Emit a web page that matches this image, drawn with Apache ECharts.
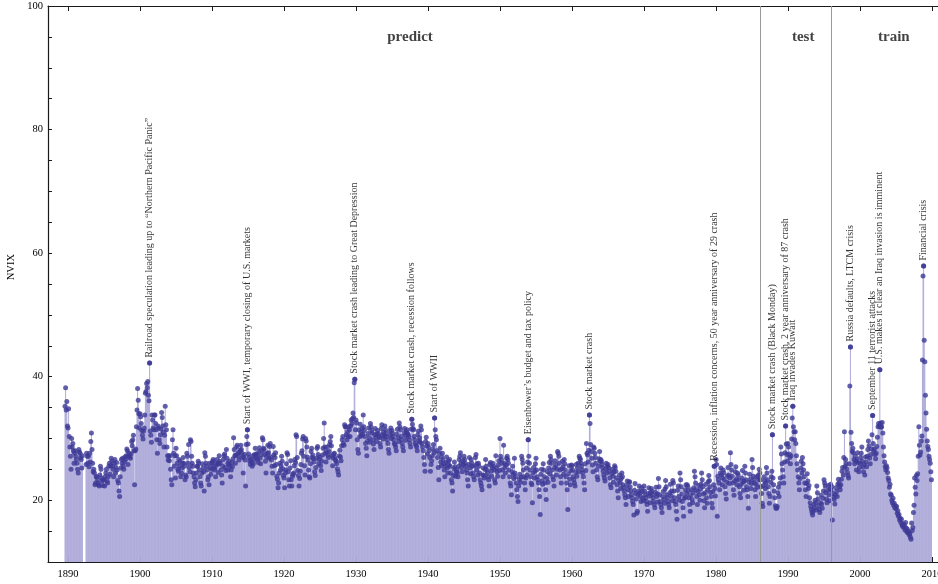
<!DOCTYPE html>
<html>
<head>
<meta charset="utf-8">
<title>NVIX</title>
<script src="https://cdn.jsdelivr.net/npm/echarts@6/dist/echarts.min.js"></script>
<style>
  html, body { margin: 0; padding: 0; background: #fff; }
  #chart { width: 938px; height: 584px; }
</style>
</head>
<body>
<div id="chart"></div>
<script>
// Monthly NVIX readings grouped by decade, one row per year.
// The series opens in August 1889; null marks months without a reading.
const nvix1880s = [
  35.2, 38.2, 34.6, 36.0, 32.0
];
const nvix1890s = [
  31.7, 34.8, 30.3, 28.6, 27.1, 25.0, 30.0, 28.6, 29.2, 28.0, 26.0, 27.6,
  28.0, 27.1, 26.6, 26.0, 25.0, 24.4, 28.2, 27.8, 27.6, 26.9, 26.6, 25.2,
  27.2, null, null, null, null, null, 25.8, 27.6, 27.1, 26.0, 27.1, 25.4,
  27.6, 26.2, 29.5, 30.9, 28.2, 26.0, 24.6, 25.0, 24.4, 22.5, 22.8, 23.8,
  23.8, 23.3, 22.8, 22.5, 22.3, 24.1, 25.5, 25.0, 23.6, 23.1, 22.4, 23.3,
  23.3, 22.3, 23.8, 24.4, 25.0, 23.1, 22.8, 23.8, 25.5, 26.0, 24.2, 25.6,
  26.8, 26.3, 25.5, 25.0, 23.8, 26.0, 26.6, 24.4, 25.3, 26.1, 24.9, 23.2,
  22.8, 21.5, 20.6, 23.8, 25.2, 26.6, 26.0, 26.8, 25.5, 25.0, 26.2, 27.0,
  26.6, 27.2, 28.3, 28.0, 25.8, 27.2, 27.6, 27.0, 26.8, 27.5, 29.5, 28.8,
  29.8, 30.5, 28.0, 22.5, 28.0, 28.3, 31.9, 34.6, 38.1, 36.2, 34.0, 31.7
];
const nvix1900s = [
  34.0, 33.5, 32.4, 31.3, 30.5, 29.9, 31.2, 31.7, 33.8, 37.3, 37.6, 38.9,
  38.2, 39.2, 37.0, 36.1, 42.2, 31.2, 30.5, 29.4, 33.8, 33.0, 31.7, 31.4,
  33.8, 33.8, 32.4, 31.4, 29.8, 27.6, 32.0, 31.7, 29.8, 29.2, 30.6, 31.5,
  34.2, 33.4, 32.0, 31.0, 28.6, 30.5, 35.2, 32.2, 31.4, 28.6, 27.2, 26.5,
  27.2, 26.4, 27.2, 25.0, 23.3, 22.5, 29.8, 31.4, 27.6, 25.5, 27.2, 23.6,
  28.4, 27.2, 26.0, 25.0, 24.7, 26.6, 25.5, 26.3, 23.8, 24.4, 25.2, 26.0,
  26.9, 26.0, 25.5, 23.3, 24.1, 23.8, 27.6, 27.1, 26.0, 29.0, 25.3, 24.6,
  29.8, 29.5, 27.1, 26.0, 25.5, 24.4, 23.8, 22.8, 22.2, 23.3, 24.4, 25.5,
  25.5, 26.3, 26.0, 24.9, 23.8, 22.8, 22.3, 24.4, 25.9, 25.2, 24.6, 21.5,
  27.7, 27.1, 26.0, 25.5, 24.9, 23.3, 23.8, 22.5, 26.0, 25.3, 24.2, 25.0
];
const nvix1910s = [
  26.0, 26.3, 26.6, 25.5, 24.9, 25.2, 23.8, 26.0, 26.6, 25.8, 24.5, 25.9,
  27.2, 26.3, 26.0, 24.9, 24.1, 22.8, 25.5, 26.6, 27.2, 27.5, 25.3, 24.8,
  28.2, 26.8, 26.0, 24.9, 25.8, 26.3, 25.5, 23.8, 24.9, 26.1, 25.4, 26.7,
  30.1, 28.2, 27.2, 26.0, 27.3, 28.6, 28.9, 27.6, 27.1, 26.5, 27.8, 28.1,
  28.9, 28.2, 27.6, 26.9, 24.4, 27.0, 27.4, 26.5, 22.3, 29.0, 30.3, 31.4,
  29.1, 27.5, 26.9, 26.3, 25.8, 26.6, 26.1, 25.5, 27.2, 25.9, 26.6, 27.4,
  28.4, 27.3, 26.9, 27.5, 26.6, 26.1, 27.9, 28.5, 26.8, 25.9, 27.3, 28.0,
  30.1, 29.8, 28.4, 28.2, 27.4, 26.3, 24.4, 27.0, 27.6, 28.9, 27.7, 26.8,
  28.7, 29.2, 27.0, 26.5, 25.5, 24.4, 28.7, 27.3, 25.6, 26.9, 27.7, 25.8,
  23.9, 23.4, 22.0, 22.8, 24.4, 26.0, 24.9, 25.6, 27.1, 26.3, 25.1, 24.0
];
const nvix1920s = [
  23.6, 22.0, 24.4, 24.9, 25.9, 27.7, 27.4, 24.6, 23.3, 22.3, 25.2, 26.4,
  23.3, 22.3, 23.9, 24.2, 24.4, 25.6, 26.6, 26.1, 30.6, 30.3, 26.9, 24.8,
  24.0, 22.3, 23.5, 24.7, 25.8, 27.6, 28.0, 29.9, 30.3, 27.1, 25.6, 24.1,
  30.0, 29.6, 28.6, 27.0, 26.5, 24.9, 23.8, 23.6, 25.9, 27.9, 28.4, 26.9,
  27.3, 26.7, 26.2, 24.6, 24.0, 25.3, 26.8, 28.4, 28.7, 27.4, 25.9, 26.6,
  27.0, 25.6, 24.8, 26.3, 27.3, 28.4, 30.0, 32.5, 28.6, 27.6, 26.2, 27.9,
  28.6, 27.3, 26.9, 27.9, 29.0, 29.5, 30.3, 28.8, 27.2, 25.6, 26.8, 27.5,
  27.6, 26.9, 26.5, 26.3, 25.9, 25.1, 24.6, 24.1, 27.2, 28.1, 27.0, 26.4,
  28.8, 29.8, 30.3, 29.2, 28.9, 32.2, 31.9, 31.9, 30.6, 29.8, 31.1, 30.3,
  31.9, 31.4, 30.3, 32.0, 33.0, 32.4, 33.2, 34.1, 33.4, 39.0, 39.6, 31.4
];
const nvix1930s = [
  33.0, 32.5, 29.8, 28.2, 27.6, 31.4, 30.3, 32.3, 31.0, 30.4, 31.6, 30.7,
  33.8, 31.9, 31.3, 30.3, 29.2, 28.4, 27.2, 29.6, 30.8, 31.7, 30.1, 29.4,
  32.4, 31.9, 31.3, 30.9, 29.8, 29.1, 28.2, 30.6, 31.6, 30.2, 29.5, 30.7,
  31.3, 30.8, 30.3, 30.1, 29.2, 28.6, 31.6, 32.2, 30.6, 29.9, 31.0, 30.4,
  32.0, 31.4, 30.8, 30.3, 29.8, 29.2, 28.2, 27.6, 31.2, 30.5, 31.7, 30.0,
  31.3, 30.8, 30.3, 29.8, 29.2, 29.0, 28.6, 28.0, 30.7, 31.5, 30.1, 29.5,
  32.5, 31.9, 31.4, 30.3, 29.8, 29.2, 28.6, 28.0, 30.9, 31.6, 30.4, 29.7,
  31.0, 31.4, 30.8, 30.6, 30.3, 29.8, 29.2, 28.6, 31.5, 33.1, 32.3, 31.6,
  31.4, 30.3, 29.8, 29.2, 28.9, 28.6, 28.0, 30.6, 31.2, 29.6, 30.1, 29.4,
  32.0, 31.4, 29.2, 28.6, 28.0, 26.9, 25.8, 24.7, 29.5, 30.2, 28.8, 27.5
];
const nvix1940s = [
  29.2, 28.6, 28.0, 26.9, 24.7, 25.8, 26.4, 27.2, 28.3, 29.0, 27.7, 33.3,
  31.4, 30.3, 29.8, 28.0, 26.9, 25.3, 23.3, 27.6, 28.4, 26.2, 25.6, 27.0,
  27.6, 26.5, 25.9, 24.9, 23.8, 25.5, 26.1, 27.0, 25.2, 24.4, 26.3, 25.7,
  26.6, 25.5, 24.4, 23.3, 22.8, 21.5, 24.0, 25.1, 26.2, 25.4, 23.9, 24.6,
  24.9, 24.4, 23.8, 25.5, 26.6, 27.1, 27.7, 26.0, 25.3, 24.6, 26.4, 25.8,
  27.1, 26.6, 26.0, 25.5, 24.9, 24.4, 23.3, 22.3, 25.8, 26.9, 25.2, 24.3,
  26.6, 26.0, 25.5, 24.4, 23.8, 23.3, 25.6, 26.9, 27.4, 24.9, 25.9, 24.1,
  26.0, 25.5, 24.4, 23.3, 22.8, 22.3, 21.7, 24.1, 25.2, 24.0, 23.6, 25.0,
  26.6, 25.5, 24.9, 24.4, 23.8, 23.3, 22.3, 25.8, 26.1, 24.7, 23.9, 25.3,
  26.0, 25.5, 24.9, 23.3, 22.8, 27.2, 25.2, 24.6, 23.9, 25.7, 26.4, 24.8
];
const nvix1950s = [
  30.0, 27.1, 26.6, 26.0, 24.9, 23.8, 28.9, 26.0, 25.3, 24.4, 25.7, 26.8,
  27.1, 26.6, 26.0, 24.9, 23.8, 22.8, 22.3, 20.9, 24.6, 25.5, 24.2, 23.5,
  26.8, 24.4, 23.8, 22.8, 21.7, 20.6, 19.8, 22.3, 23.4, 24.2, 22.9, 23.7,
  27.1, 26.6, 26.0, 24.9, 23.8, 22.8, 21.7, 23.6, 25.2, 24.1, 26.2, 29.8,
  27.1, 26.0, 24.9, 23.8, 22.8, 22.5, 19.6, 24.4, 25.3, 23.6, 24.7, 25.9,
  26.8, 24.9, 23.8, 23.3, 22.8, 21.7, 20.6, 17.7, 24.2, 25.0, 23.1, 22.6,
  25.9, 24.9, 23.8, 22.8, 21.7, 20.1, 23.5, 24.6, 22.9, 25.2, 26.1, 24.3,
  27.1, 26.6, 26.0, 24.9, 23.8, 23.3, 22.3, 25.3, 26.4, 25.7, 24.1, 25.0,
  27.9, 27.6, 27.1, 26.0, 24.9, 23.8, 22.8, 25.1, 26.3, 25.4, 24.2, 26.6,
  25.9, 24.9, 23.8, 22.8, 21.7, 18.5, 24.3, 25.6, 23.4, 22.5, 24.8, 25.7
];
const nvix1960s = [
  25.6, 24.9, 23.8, 23.3, 22.8, 22.3, 24.5, 25.8, 23.9, 25.2, 26.0, 24.6,
  27.1, 26.8, 26.6, 26.0, 25.5, 24.9, 24.4, 23.8, 22.8, 21.7, 25.9, 24.8,
  29.2, 27.6, 27.3, 26.2, 28.1, 33.8, 32.4, 29.0, 27.9, 26.8, 25.7, 24.6,
  28.6, 28.4, 27.6, 26.9, 26.0, 24.9, 23.8, 23.3, 25.5, 26.7, 27.9, 26.3,
  26.6, 26.3, 25.8, 25.3, 24.7, 24.1, 23.6, 23.1, 25.1, 26.0, 24.4, 25.5,
  25.8, 25.3, 24.7, 23.6, 22.5, 22.0, 24.3, 25.0, 23.9, 22.9, 24.6, 25.6,
  25.3, 24.7, 23.6, 22.5, 21.5, 20.4, 23.2, 24.1, 22.8, 21.9, 23.5, 24.4,
  23.8, 22.5, 22.0, 21.5, 20.9, 20.4, 19.3, 22.4, 23.1, 21.7, 20.6, 22.9,
  23.0, 22.2, 21.5, 20.9, 20.4, 19.8, 19.3, 17.6, 21.6, 22.7, 21.1, 20.2,
  17.9, 18.2, 20.9, 21.5, 22.3, 21.2, 20.6, 19.8, 22.0, 21.4, 20.3, 19.9
];
const nvix1970s = [
  22.3, 21.5, 20.9, 20.4, 19.8, 19.3, 18.2, 21.1, 22.0, 20.7, 19.6, 21.2,
  21.9, 21.5, 20.9, 20.4, 19.8, 19.3, 18.8, 21.3, 22.1, 20.6, 21.0, 19.7,
  23.5, 22.2, 20.9, 19.8, 19.3, 18.8, 18.0, 20.6, 21.4, 20.1, 19.5, 21.8,
  23.2, 22.2, 20.9, 20.4, 19.8, 19.3, 18.8, 21.2, 22.6, 20.7, 21.5, 19.9,
  23.2, 22.8, 21.5, 20.4, 19.8, 19.3, 18.2, 16.9, 21.6, 22.3, 20.6, 20.0,
  24.4, 23.3, 22.2, 21.0, 19.8, 18.8, 17.4, 20.3, 21.7, 20.5, 22.5, 21.1,
  22.5, 22.2, 21.5, 20.4, 19.3, 18.2, 20.8, 21.7, 20.1, 19.6, 21.2, 22.0,
  24.7, 23.8, 22.8, 21.7, 20.6, 19.3, 21.4, 22.4, 20.9, 20.0, 21.8, 22.6,
  24.4, 23.3, 22.2, 21.0, 19.9, 18.8, 21.2, 22.6, 20.4, 19.5, 21.7, 23.0,
  24.0, 23.2, 22.2, 21.3, 20.6, 19.5, 18.8, 21.4, 22.5, 25.5, 21.9, 20.7
];
const nvix1980s = [
  26.6, 25.8, 17.4, 23.9, 23.3, 22.8, 21.7, 24.4, 25.2, 24.1, 22.5, 23.6,
  24.9, 24.4, 23.3, 22.2, 21.1, 20.2, 22.9, 23.9, 25.3, 24.1, 22.7, 23.6,
  27.7, 25.8, 24.9, 23.9, 22.8, 21.7, 20.8, 23.1, 24.6, 25.4, 23.4, 22.5,
  24.4, 24.1, 23.3, 22.2, 21.1, 20.4, 22.6, 23.6, 24.8, 22.9, 21.6, 23.1,
  25.5, 24.4, 23.3, 22.2, 21.7, 20.6, 18.7, 22.9, 24.2, 23.4, 21.9, 22.7,
  26.6, 25.3, 23.9, 23.3, 22.8, 21.7, 20.6, 22.6, 23.8, 22.1, 24.0, 23.3,
  25.0, 24.4, 23.3, 22.2, 21.1, 19.5, 19.0, 22.4, 23.8, 23.1, 21.9, 22.8,
  25.3, 24.4, 23.3, 22.2, 21.1, 19.5, 20.6, 22.9, 23.8, 24.7, 30.6, 23.6,
  22.5, 21.5, 20.4, 19.1, 18.7, 18.7, 19.0, 21.2, 22.1, 20.6, 22.7, 23.6,
  28.6, 27.5, 25.9, 24.9, 23.8, 22.8, 26.2, 27.7, 32.0, 29.1, 27.4, 26.3
];
const nvix1990s = [
  29.2, 28.6, 27.5, 26.9, 25.9, 27.2, 29.9, 33.3, 35.2, 31.9, 31.1, 29.8,
  31.1, 29.2, 27.2, 25.9, 24.9, 23.8, 22.8, 21.7, 23.5, 25.2, 26.3, 24.4,
  26.9, 25.9, 24.9, 23.8, 22.8, 21.7, 20.6, 22.7, 24.3, 23.1, 21.9, 22.4,
  20.4, 19.6, 19.0, 18.5, 18.0, 17.6, 18.2, 19.3, 18.8, 20.0, 19.6, 18.4,
  22.3, 21.2, 20.2, 19.1, 18.5, 18.0, 19.6, 20.8, 19.4, 18.7, 20.3, 21.5,
  23.3, 22.8, 22.3, 21.2, 20.2, 19.6, 21.6, 22.4, 20.9, 19.9, 21.8, 22.6,
  21.6, 22.2, 16.8, 21.1, 20.5, 20.1, 19.4, 20.9, 22.0, 21.4, 20.6, 22.6,
  23.4, 22.8, 22.2, 21.7, 22.5, 23.4, 24.7, 25.3, 24.1, 26.9, 31.1, 25.4,
  26.6, 25.9, 25.1, 24.5, 24.0, 23.6, 25.9, 38.5, 44.8, 31.0, 29.2, 27.9,
  28.4, 27.7, 26.6, 25.9, 27.1, 26.3, 24.9, 26.6, 27.7, 26.1, 24.6, 25.3
];
const nvix2000s = [
  26.0, 26.9, 27.6, 28.6, 26.3, 25.4, 24.6, 25.8, 24.1, 27.0, 26.2, 25.4,
  27.1, 28.2, 29.6, 28.8, 26.8, 25.9, 27.4, 28.3, 30.6, 33.7, 29.2, 28.0,
  28.3, 27.4, 26.7, 27.6, 28.7, 30.2, 31.9, 32.4, 32.0, 41.1, 32.5, 31.8,
  31.9, 32.6, 30.9, 28.6, 27.2, 26.2, 25.4, 24.9, 25.6, 25.2, 24.5, 23.6,
  23.2, 22.1, 22.6, 21.0, 20.8, 20.0, 19.6, 20.3, 19.2, 19.5, 18.8, 19.1,
  18.6, 19.0, 17.9, 18.3, 17.4, 17.7, 16.8, 17.1, 16.4, 16.9, 16.0, 15.8,
  16.2, 15.6, 15.9, 15.2, 16.4, 15.5, 14.9, 15.3, 14.7, 14.9, 14.4, 14.6,
  14.0, 13.7, 16.3, 15.1, 15.6, 18.0, 19.2, 23.6, 22.1, 21.0, 24.0, 23.2,
  24.3, 27.1, 31.9, 28.9, 27.3, 27.8, 29.6, 30.4, 42.7, 56.3, 57.9, 45.9,
  42.4, 37.0, 34.1, 31.5, 29.6, 28.7, 28.2, 27.1, 26.6, 26.0, 24.6, 23.3
];

// First month of the series: year and zero-based month.
const seriesStart = [1889, 7];

// Tick years on the horizontal axis.
const yearTicks = [1890, 1900, 1910, 1920, 1930, 1940, 1950, 1960, 1970, 1980, 1990, 2000, 2010];

// Annotated episodes: month (YYYY-MM) and the text written above its reading.
const eventMonths = ['1901-05', '1914-12', '1929-11', '1937-10', '1940-12', '1953-12', '1962-06',
  '1979-10', '1987-11', '1989-09', '1990-09', '1998-09', '2001-10', '2002-10', '2008-11'];
const eventTexts = [
  'Railroad speculation leading up to \u201cNorthern Pacific Panic\u201d',
  'Start of WWI, temporary closing of U.S. markets',
  'Stock market crash leading to Great Depression',
  'Stock market crash, recession follows',
  'Start of WWII',
  'Eisenhower\u2019s budget and tax policy',
  'Stock market crash',
  'Recession, inflation concerns, 50 year anniversary of 29 crash',
  'Stock market crash (Black Monday)',
  'Stock market crash, 2 year anniversary of 87 crash',
  'Iraq invades Kuwait',
  'Russia defaults, LTCM crisis',
  'September 11 terrorist attacks',
  'U.S. makes it clear an Iraq invasion is imminent',
  'Financial crisis'
];

// Sample boundaries and the names of the three periods.
const sampleSplits = [1986.1, 1996.05];
const sampleNames = ['predict', 'test', 'train'];
const sampleNameYears = [1937.5, 1992.1, 2004.7];

// ---------------------------------------------------------------------------

const monthly = [].concat(nvix1880s, nvix1890s, nvix1900s, nvix1910s, nvix1920s,
  nvix1930s, nvix1940s, nvix1950s, nvix1960s, nvix1970s, nvix1980s, nvix1990s, nvix2000s);

const monthToYear = i => seriesStart[0] + (seriesStart[1] + i) / 12;
const points = monthly.map((v, i) => [monthToYear(i), v]);
const validPoints = points.filter(p => p[1] !== null);

const eventPoints = eventMonths.map((m, k) => {
  const [y, mo] = m.split('-').map(Number);
  const idx = (y - seriesStart[0]) * 12 + (mo - 1) - seriesStart[1];
  return [monthToYear(idx), monthly[idx], eventTexts[k]];
});

const serif = '"Liberation Serif", "DejaVu Serif", serif';
const ink = '#1a1a1a';
const dotColor = '#3d3996';
const xMin = 1887.22, xMax = 2010.83;

const xAxisCommon = {
  type: 'value', min: xMin, max: xMax,
  axisLine: { show: true, onZero: false, lineStyle: { color: ink, width: 1.2 } },
  axisTick: { show: true, inside: true, length: 5, customValues: yearTicks, lineStyle: { color: ink, width: 1 } },
  splitLine: { show: false }
};

const chart = echarts.init(document.getElementById('chart'), null, { renderer: 'canvas' });

chart.setOption({
  animation: false,
  backgroundColor: '#ffffff',
  grid: { left: 48, right: 0, top: 6, bottom: 22, containLabel: false, outerBoundsMode: 'none' },
  xAxis: [
    Object.assign({}, xAxisCommon, {
      position: 'bottom',
      axisLabel: { customValues: yearTicks, fontFamily: serif, fontSize: 10.5, color: '#000', margin: 7,
        hideOverlap: false, formatter: v => String(v) }
    }),
    Object.assign({}, xAxisCommon, {
      position: 'top',
      axisLabel: { show: false }
    })
  ],
  yAxis: {
    type: 'value', min: 10, max: 100, interval: 5,
    axisLine: { show: true, lineStyle: { color: ink, width: 1.2 } },
    axisTick: { show: true, inside: true, length: 4, lineStyle: { color: ink, width: 1 } },
    axisLabel: { fontFamily: serif, fontSize: 10.5, color: '#000', margin: 5,
      formatter: v => (v % 20 === 0 ? String(v) : '') },
    splitLine: { show: false }
  },
  graphic: [{
    type: 'text', left: 6, top: 254, rotation: Math.PI / 2,
    style: { text: 'NVIX', font: '10.5px ' + serif, fill: '#000' }
  }],
  series: [
    {
      name: 'stems', type: 'bar', data: points, barWidth: 1,
      itemStyle: { color: '#afabda' }, silent: true, clip: true,
      markLine: {
        silent: true, symbol: 'none', animation: false,
        label: { show: false },
        lineStyle: { color: '#9a9a9a', width: 1, type: 'solid' },
        data: sampleSplits.map(x => ({ xAxis: x }))
      }
    },
    {
      name: 'NVIX', type: 'scatter', data: validPoints, symbolSize: 5,
      itemStyle: { color: dotColor }, silent: true
    },
    {
      name: 'events', type: 'scatter', data: eventPoints, symbolSize: 5,
      itemStyle: { color: dotColor }, silent: true,
      label: {
        show: true, position: 'top', distance: 3, rotate: 90,
        align: 'left', verticalAlign: 'middle',
        formatter: p => p.data[2],
        fontFamily: serif, fontSize: 10, color: '#000'
      },
      labelLayout: { hideOverlap: false }
    },
    {
      name: 'samples', type: 'scatter', silent: true,
      data: sampleNames.map((n, k) => [sampleNameYears[k], 95, n]),
      symbolSize: 1, itemStyle: { color: 'rgba(0,0,0,0)' },
      label: {
        show: true, position: 'inside', formatter: p => p.data[2],
        fontFamily: serif, fontSize: 15, fontWeight: 'bold', color: '#111'
      }
    }
  ]
});
</script>
</body>
</html>
